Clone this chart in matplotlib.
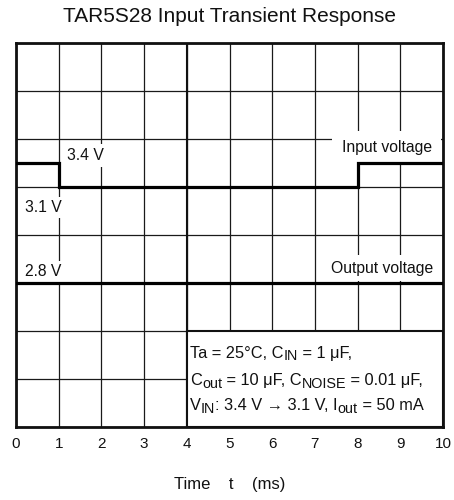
import matplotlib
matplotlib.use("Agg")
import matplotlib.pyplot as plt
from matplotlib.patches import Rectangle
from matplotlib.transforms import offset_copy

plt.rcParams['font.family'] = ['Liberation Sans', 'DejaVu Sans']

# scope trace, in screen divisions (10 x 8 grid)
time_in = [0, 1, 1, 8, 8, 10]
input_div = [5.5, 5.5, 5, 5, 5.5, 5.5]
time_out = [0, 10]
output_div = [3, 3]

x_ticks = list(range(11))
y_divs = list(range(9))

title = "TAR5S28 Input Transient Response"
xlabel = "Time    t    (ms)"
# (text, is_subscript)
conditions = [
    [("Ta = 25°C, C", False), ("IN", True), (" = 1 μF,", False)],
    [("C", False), ("out", True), (" = 10 μF, C", False), ("NOISE", True),
     (" = 0.01 μF,", False)],
    [("V", False), ("IN", True), (": 3.4 V → 3.1 V, I", False), ("out", True),
     (" = 50 mA", False)],
]

fig = plt.figure(figsize=(4.54, 5.0), dpi=100)
ax = fig.add_axes([16 / 454, 73 / 500, 427 / 454, 384 / 500])

ax.set_xlim(0, 10)
ax.set_ylim(0, 8)
ax.set_xticks(x_ticks)
ax.set_yticks(y_divs)
ax.set_yticklabels([])
ax.tick_params(axis='both', length=0)
ax.tick_params(axis='x', pad=7, labelsize=11, colors='#111111')
ax.set_axisbelow(True)
ax.grid(True, color='#1a1a1a', lw=0.9)
for sp in ax.spines.values():
    sp.set_linewidth(2)
    sp.set_color('#111111')

# the thicker division at t = 4
ax.axvline(4, color='#111111', lw=1.5, zorder=1.2)

# conditions box
ax.add_patch(Rectangle((4, 0), 6, 2, facecolor='white', edgecolor='#111111',
                       lw=1.5, zorder=1.5))

ax.plot(time_in, input_div, color='black', lw=2.3, zorder=5,
        solid_joinstyle='miter')
ax.plot(time_out, output_div, color='black', lw=2.3, zorder=5)

lbl = dict(fontsize=11.3, color='#111111', zorder=3)
ax.text(1.19, 5.56, "3.4 V", ha='left', va='baseline',
        bbox=dict(boxstyle='square,pad=0.25', fc='white', ec='none'), **lbl)
ax.text(0.21, 4.48, "3.1 V", ha='left', va='baseline',
        bbox=dict(boxstyle='square,pad=0.2', fc='white', ec='none'), **lbl)
ax.text(0.21, 3.15, "2.8 V", ha='left', va='baseline',
        bbox=dict(boxstyle='square,pad=0.2', fc='white', ec='none'), **lbl)
ax.text(9.74, 5.73, "Input voltage", ha='right', va='baseline',
        bbox=dict(boxstyle='square,pad=0.6', fc='white', ec='none'), **lbl)
ax.text(9.77, 3.21, "Output voltage", ha='right', va='baseline',
        bbox=dict(boxstyle='square,pad=0.35', fc='white', ec='none'), **lbl)

# conditions text, subscripts drawn as smaller lowered pieces
renderer = fig.canvas.get_renderer()


def text_width(s, size):
    # pad with X so that leading/trailing spaces are counted
    probe = fig.text(0, 0, "X" + s + "X", fontsize=size)
    ref = fig.text(0, 0, "XX", fontsize=size)
    w = probe.get_window_extent(renderer).width - ref.get_window_extent(renderer).width
    probe.remove()
    ref.remove()
    return w


cond_size = 11.8
sub_size = cond_size * 0.88
for y, parts in zip([1.44, 0.875, 0.354], conditions):
    dx = 0.0
    for s, sub in parts:
        size = sub_size if sub else cond_size
        dy = -2.5 if sub else 0.0
        tr = offset_copy(ax.transData, fig=fig, x=dx, y=dy, units='dots')
        ax.text(4.08, y, s, transform=tr, ha='left', va='baseline',
                fontsize=size, color='#111111', zorder=3)
        dx += text_width(s, size)

ax.set_xlabel(xlabel, fontsize=12, color='#111111', va='center')
ax.xaxis.set_label_coords(0.5, (427 - 484) / 384)

fig.text(229.5 / 454, 1 - 16 / 500, title, ha='center', va='center',
         fontsize=15, color='#111111')

fig.savefig("out.png", dpi=100)
